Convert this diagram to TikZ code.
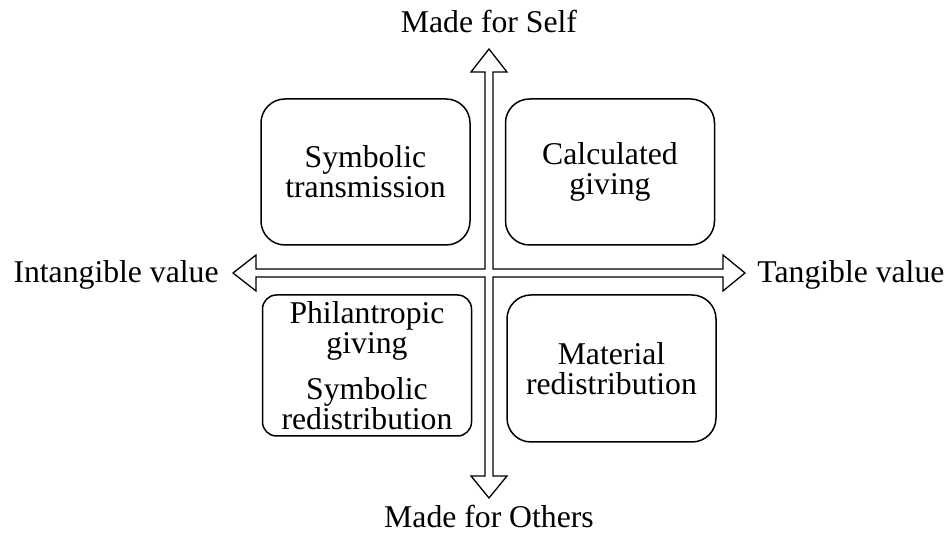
\documentclass[tikz,border=0pt]{standalone}
\usepackage{fontspec}
\setmainfont{Liberation Serif}

\tikzset{
  quadbox/.style={draw, line width=0.75pt, rounded corners=12pt, align=center,
    minimum width=104.5pt, minimum height=73pt, inner sep=2pt,
    font=\fontsize{15.85}{15}\selectfont},
  axislabel/.style={font=\fontsize{15.85}{15}\selectfont, inner sep=0pt}
}

\begin{document}
\begin{tikzpicture}[x=0.5pt, y=-0.5pt]
            \useasboundingbox (0,0) rectangle (950,549);

            % Cross of block arrows
            \draw[line width=0.65pt, line join=miter]
              (485,269) -- (485,72) -- (471,72) -- (489,49) -- (507,72) -- (493,72)
              -- (493,269) -- (723,269) -- (723,255) -- (745,273) -- (723,291) -- (723,277)
              -- (493,277) -- (493,476) -- (507,476) -- (489,498) -- (471,476) -- (485,476)
              -- (485,277) -- (256,277) -- (256,291) -- (233,273) -- (256,255) -- (256,269)
              -- cycle;
            \coordinate (top) at (489,49);
            \coordinate (bottom) at (489,498);
            \coordinate (left) at (233,273);
            \coordinate (right) at (745,273);

            % Axis labels
            \node[axislabel, anchor=base] (self) at (489,33) {Made for Self};
            \node[axislabel, anchor=base] (others) at (489,528) {Made for Others};
            \node[axislabel, anchor=base east] (intangible) at (219,283) {Intangible value};
            \node[axislabel, anchor=base west] (tangible) at (757,283) {Tangible value};

            % Quadrants
            \node[quadbox] (symtrans) at (365.5,172) {Symbolic\\transmission};
            \node[quadbox] (calc) at (610,172) {Calculated\\giving};
            \node[quadbox, minimum height=70.5pt, rounded corners=7pt] (phil) at (367,365.5)
              {Philantropic\\giving\\[8pt]Symbolic\\redistribution};
            \node[quadbox, minimum height=73.5pt] (material) at (611.5,368.5)
              {Material\\redistribution};

\end{tikzpicture}
\end{document}
